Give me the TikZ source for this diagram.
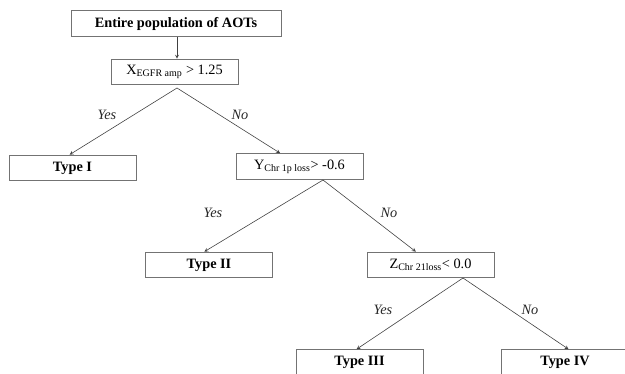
\documentclass[tikz,border=0pt]{standalone}
\usepackage{fontspec}
\setmainfont{Liberation Serif}
\usepackage{tikz}

\tikzset{
  box/.style={draw=black!55, line width=0.8pt, minimum width=3.81cm, minimum height=0.77cm, inner sep=0pt, font=\fontsize{12.2}{14}\selectfont},
  leaf/.style={box, font=\fontsize{12.2}{14}\selectfont\bfseries},
  branch/.style={draw=black!75, line width=0.5pt, -stealth},
  answer/.style={font=\fontsize{12.2}{14}\selectfont\itshape, text=black!85}
}

\begin{document}
\begin{tikzpicture}[x=0.03cm, y=-0.03cm]
\clip (0,0) rectangle (625,374);
% boxes
\node [leaf, minimum width=6.3cm] (entire) at (176,23.5) {Entire population of AOTs};
\node [box] (xbox) at (174.5,72) {X\textsubscript{EGFR amp} > 1.25};
\node [leaf] (type1) at (72.5,168) {Type I};
\node [box] (ybox) at (299.5,166.5) {Y\textsubscript{Chr 1p loss}> -0.6};
\node [leaf] (type2) at (209,265) {Type II};
\node [box] (zbox) at (430.5,265) {Z\textsubscript{Chr 21loss}< 0.0};
\node [leaf] (type3) at (359.5,362.5) {Type III};
\node [leaf] (type4) at (565,362.5) {Type IV};
% split points
\coordinate (xsplit) at (177,88);
\coordinate (ysplit) at (323,180);
\coordinate (zsplit) at (463,278);
% connectors
\draw [branch] (entire.south -| xsplit) -- (xbox.north -| xsplit);
\draw [branch] (xsplit) -- ([xshift=-2.5]type1.north);
\draw [branch] (xsplit) -- ([xshift=-16.5]ybox.north);
\draw [branch] (ysplit) -- ([xshift=-4]type2.north);
\draw [branch] (ysplit) -- ([xshift=-12.5]zbox.north);
\draw [branch] (zsplit) -- ([xshift=-2.5]type3.north);
\draw [branch] (zsplit) -- ([xshift=3]type4.north);
% labels
\node [answer] (yes1) at (107,115) {Yes};
\node [answer] (no1) at (240,115) {No};
\node [answer] (yes2) at (213,213) {Yes};
\node [answer] (no2) at (389,213) {No};
\node [answer] (yes3) at (383,310) {Yes};
\node [answer] (no3) at (530,310) {No};
\end{tikzpicture}
\end{document}
